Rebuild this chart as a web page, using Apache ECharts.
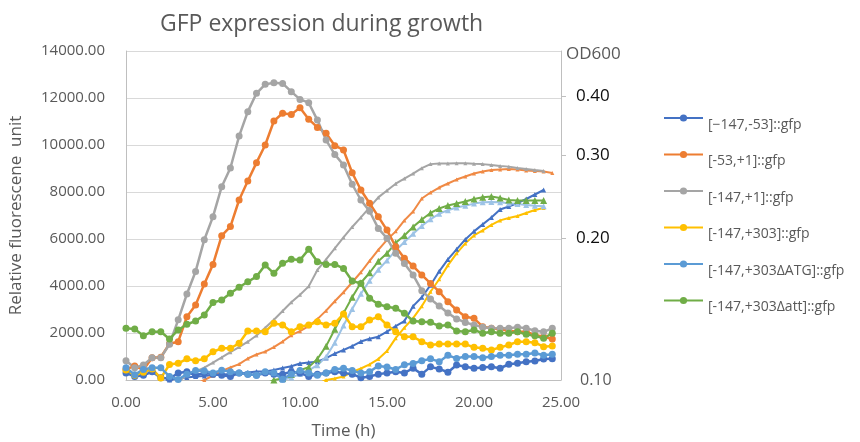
<!DOCTYPE html>
<html>
<head>
<meta charset="utf-8">
<script src="https://cdn.jsdelivr.net/npm/echarts@6/dist/echarts.min.js"></script>
<style>
html,body{margin:0;padding:0;background:#ffffff;}
#chart{width:860px;height:442px;}
</style>
</head>
<body>
<div id="chart"></div>
<script>
// ---------- DATA ----------
const timeHours = [0,0.5,1,1.5,2,2.5,3,3.5,4,4.5,5,5.5,6,6.5,7,7.5,8,8.5,9,9.5,10,10.5,11,11.5,12,12.5,13,13.5,14,14.5,15,15.5,16,16.5,17,17.5,18,18.5,19,19.5,20,20.5,21,21.5,22,22.5,23,23.5,24,24.5];

const seriesNames = ["[\u2212147,-53]::gfp", "[-53,+1]::gfp", "[-147,+1]::gfp", "[-147,+303]::gfp", "[-147,+303\u0394ATG]::gfp", "[-147,+303\u0394att]::gfp"];

// Relative fluorescence (left axis)
const fluor_m147_m53 = [300,150,200,350,100,50,300,350,200,300,250,200,150,300,250,200,300,250,250,350,300,150,250,300,350,300,250,100,150,250,300,350,300,500,250,560,470,330,640,560,500,530,560,500,670,710,780,810,890,900];
const fluor_m53_p1 = [450,600,430,950,970,1545,1630,2690,3190,4090,4920,6140,6530,7660,8470,9250,10000,11020,11350,11300,11590,11100,10750,10500,9970,9790,8820,8085,7520,6950,6380,5670,5180,4850,4470,4110,3760,3330,2980,2690,2625,2270,2200,2160,2100,2055,2055,1915,1840,1745];
const fluor_m147_p1 = [820,520,640,950,950,1520,2560,3660,4620,5970,6950,8225,9020,10380,11420,12200,12580,12650,12620,12270,11940,11800,11060,10210,9600,9150,8330,7660,7180,6450,6030,5390,4960,4470,3800,3450,3150,2850,2600,2450,2340,2250,2200,2200,2200,2250,2200,2100,2050,2200];
const fluor_m147_p303 = [425,200,330,470,80,660,710,900,820,900,1200,1350,1350,1560,2085,2085,2055,2410,2340,2055,2270,2340,2480,2340,2410,2810,2270,2270,2550,2695,2340,2055,1840,1840,1630,1490,1530,1530,1530,1530,1390,1350,1275,1390,1490,1630,1630,1590,1420,1445];
const fluor_dATG = [520,220,450,520,520,150,20,250,400,380,300,420,350,300,250,200,350,300,30,250,400,300,200,300,450,500,400,300,350,600,550,450,650,700,820,900,780,1050,920,1000,1000,950,1000,1050,1050,1100,1100,1150,1050,1100];
const fluor_datt = [2200,2170,1885,2055,2055,1745,2130,2370,2510,2765,3300,3400,3690,3945,4180,4400,4890,4540,4965,5135,5105,5560,5035,4920,4920,4750,4210,4110,3475,3220,3120,3050,2840,2510,2480,2455,2300,2340,2085,2055,2130,1990,2055,1990,1990,2055,1945,1885,1775,1990];

// OD600 (right, logarithmic axis)
const od_m147_m53 = [null,null,null,null,0.098,0.1,0.1007,0.1012,0.1017,0.102,0.1025,0.1027,0.103,0.1032,0.1037,0.1042,0.1042,0.105,0.106,0.107,0.1084,0.1089,0.1094,0.1113,0.1138,0.1158,0.118,0.1207,0.1224,0.1236,0.1267,0.1301,0.1334,0.1435,0.1499,0.159,0.1702,0.1804,0.1895,0.1989,0.2069,0.2141,0.2215,0.2303,0.2337,0.2377,0.2424,0.2478,0.2533,null];
const od_m53_p1 = [null,null,null,null,null,null,null,null,0.098,0.1,0.1022,0.1045,0.1063,0.1081,0.1111,0.1133,0.1149,0.1175,0.1207,0.1245,0.127,0.1301,0.1347,0.1404,0.147,0.1536,0.1613,0.1694,0.1791,0.189,0.1985,0.2069,0.2183,0.228,0.243,0.2502,0.2564,0.2615,0.2666,0.2706,0.2746,0.2773,0.2793,0.28,0.2807,0.28,0.2786,0.2779,0.2773,0.2753];
const od_m147_p1 = [null,null,null,null,null,null,0.099,0.1025,0.1043,0.1062,0.1089,0.1117,0.1146,0.1175,0.1206,0.1243,0.1291,0.1343,0.1402,0.1463,0.1518,0.1581,0.1713,0.1804,0.1904,0.2009,0.2114,0.2215,0.2326,0.2443,0.2527,0.2612,0.2679,0.2745,0.2819,0.2875,0.2885,0.2885,0.2889,0.2886,0.288,0.2875,0.2862,0.2848,0.284,0.282,0.2806,0.2792,0.2779,null];
const od_m147_p303 = [null,null,null,null,null,null,null,null,null,null,null,null,null,null,null,null,null,null,null,null,null,null,0.098,0.1,0.1007,0.1017,0.104,0.1058,0.1079,0.1108,0.1152,0.1227,0.1292,0.1353,0.1435,0.154,0.1637,0.1752,0.1858,0.1951,0.2028,0.2079,0.2135,0.2183,0.2209,0.2231,0.2264,0.2297,0.232,null];
const od_dATG = [null,null,null,null,null,null,null,null,null,null,null,null,null,null,null,null,null,0.098,0.1,0.1012,0.103,0.1048,0.1075,0.112,0.12,0.1305,0.1415,0.1525,0.1625,0.1715,0.1795,0.1885,0.1965,0.2045,0.2125,0.2195,0.2255,0.2295,0.2325,0.2345,0.237,0.2385,0.239,0.2385,0.2375,0.2365,0.2355,0.2345,0.234,null];
const od_datt = [null,null,null,null,null,null,null,null,null,null,null,null,null,null,null,null,0.098,0.1,0.1007,0.1027,0.1049,0.1065,0.1108,0.118,0.1282,0.1387,0.1499,0.1609,0.169,0.1787,0.1858,0.1956,0.2028,0.2115,0.2193,0.2264,0.2314,0.2349,0.2371,0.2394,0.2424,0.2445,0.2454,0.2436,0.2412,0.2406,0.2406,0.2406,0.2406,null];

const leftTicks = [0,2000,4000,6000,8000,10000,12000,14000];
const odTickValues = [0.2,0.3,0.4];
const odLabelValues = [0.1,0.2,0.3,0.4];

// ---------- STYLE ----------
const fluorData = [fluor_m147_m53, fluor_m53_p1, fluor_m147_p1, fluor_m147_p303, fluor_dATG, fluor_datt];
const odData = [od_m147_m53, od_m53_p1, od_m147_p1, od_m147_p303, od_dATG, od_datt];
const fluorColors = ['#4472C4','#ED7D31','#A5A5A5','#FFC000','#5B9BD5','#70AD47'];
const odColors = ['#4472C4','#F08A45','#A5A5A5','#FFC000','#9DC3E6','#70AD47'];
const odSymbolSizes = [5,4,4,4,6,7];
const FONT = '"Open Sans", "Noto Sans", sans-serif';
const OD_MIN = 0.1;

function pairs(arr){ return timeHours.map((t,i)=>[t, arr[i]]); }
// points below the OD axis minimum only carry the line to the bottom edge; no marker there
function odPairs(arr){
  return timeHours.map((t,i)=> (arr[i] !== null && arr[i] < OD_MIN) ? {value:[t, arr[i]], symbol:'none'} : [t, arr[i]]);
}

const series = [];
odData.forEach((arr, i) => {
  series.push({
    name: 'OD600 ' + seriesNames[i],
    type: 'line',
    yAxisIndex: 1,
    data: odPairs(arr),
    symbol: 'triangle',
    symbolSize: odSymbolSizes[i],
    showSymbol: true,
    connectNulls: false,
    clip: true,
    lineStyle: {width: 2, color: odColors[i]},
    itemStyle: {color: odColors[i]},
    z: 2
  });
});
fluorData.forEach((arr, i) => {
  series.push({
    name: seriesNames[i],
    type: 'line',
    yAxisIndex: 0,
    data: pairs(arr),
    symbol: 'circle',
    symbolSize: 7,
    showSymbol: true,
    lineStyle: {width: 2.5, color: fluorColors[i]},
    itemStyle: {color: fluorColors[i]},
    z: 3
  });
});

const chart = echarts.init(document.getElementById('chart'), null, {renderer: 'canvas'});
chart.setOption({
  animation: false,
  backgroundColor: '#ffffff',
  textStyle: {fontFamily: FONT},
  title: {
    text: 'GFP expression during growth',
    left: 155, top: 8,
    textStyle: {fontFamily: FONT, fontSize: 23, fontWeight: 'normal', color: '#595959'}
  },
  legend: {
    data: seriesNames,
    orient: 'vertical',
    left: 658, top: 99,
    itemWidth: 39, itemHeight: 9, itemGap: 8.5,
    formatter: name => '\n' + name,
    textStyle: {fontFamily: FONT, fontSize: 14, color: '#595959', lineHeight: 14}
  },
  grid: {left: 126, right: 299, top: 51, bottom: 62, containLabel: false, outerBoundsMode: 'none'},
  xAxis: {
    type: 'value', min: 0, max: 25, interval: 5,
    name: 'Time (h)', nameLocation: 'middle', nameGap: 43,
    nameTextStyle: {fontFamily: FONT, fontSize: 17, color: '#595959'},
    axisLine: {show: true, lineStyle: {color: '#BFBFBF', width: 1}},
    axisTick: {show: false},
    splitLine: {show: false},
    axisLabel: {margin: 15, fontFamily: FONT, fontSize: 15, color: '#595959', formatter: v => v.toFixed(2)}
  },
  yAxis: [
    {
      type: 'value', min: leftTicks[0], max: leftTicks[leftTicks.length-1], interval: 2000,
      name: 'Relative fluorescene  unit', nameLocation: 'middle', nameGap: 101,
      nameTextStyle: {fontFamily: FONT, fontSize: 17, color: '#595959'},
      axisLine: {show: true, lineStyle: {color: '#BFBFBF', width: 1}},
      axisTick: {show: false},
      splitLine: {show: true, lineStyle: {color: '#D9D9D9', width: 1}},
      axisLabel: {margin: 21, padding: [4,0,0,0], fontFamily: FONT, fontSize: 15, color: '#595959', formatter: v => v.toFixed(2)}
    },
    {
      type: 'log', logBase: 10, min: 0.1, max: 0.5, position: 'right',
      name: 'OD600', nameLocation: 'end', nameGap: -3,
      nameTextStyle: {fontFamily: FONT, fontSize: 17, color: '#595959', align: 'left', verticalAlign: 'middle', padding: [0,0,0,5]},
      axisLine: {show: true, lineStyle: {color: '#BFBFBF', width: 1}},
      axisTick: {show: true, inside: false, length: 5, customValues: odTickValues, lineStyle: {color: '#BFBFBF'}},
      splitLine: {show: false},
      minorTick: {show: false},
      axisLabel: {
        margin: 15,
        customValues: odLabelValues,
        formatter: v => (Math.abs(v - 0.1) < 1e-6 ? '{s|' : '{b|') + Number(v).toFixed(2) + '}',
        rich: {
          s: {fontFamily: FONT, fontSize: 16, color: '#595959', padding: [0,0,0,4]},
          b: {fontFamily: FONT, fontSize: 17, color: '#0D0D0D'}
        }
      }
    }
  ],
  series: series
});
</script>
</body>
</html>
